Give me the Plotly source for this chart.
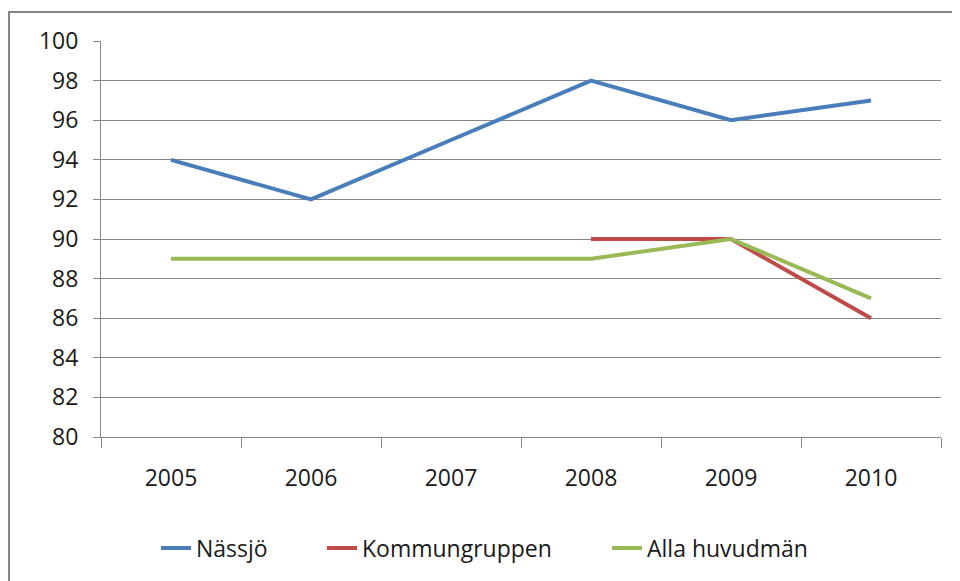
import plotly.graph_objects as go

years = ["2005", "2006", "2007", "2008", "2009", "2010"]
nassjo = [94, 92, 95, 98, 96, 97]
kommungruppen = [None, None, None, 90, 90, 86]
alla = [89, 89, 89, 89, 90, 87]

# page body has an 8px margin: work in viewport pixels, convert to figure
OFF = 8
W, H = 952, 573
L, R, T, B = 101 - OFF, 19, 41 - OFF, 144
pw, ph = W - L - R, H - T - B

def px_x(x):
    return (x - OFF - L) / pw

def px_y(y):
    return (H - B - (y - OFF)) / ph

font = dict(family="Open Sans, Noto Sans, Liberation Sans, sans-serif", size=23, color="#1a1a1a")

fig = go.Figure()
fig.add_trace(go.Scatter(x=years, y=nassjo, name="Nässjö", mode="lines", legend="legend",
                         line=dict(color="#4A7EBB", width=4)))
fig.add_trace(go.Scatter(x=years, y=kommungruppen, name="Kommungruppen", mode="lines",
                         legend="legend2", line=dict(color="#BE4B48", width=4)))
fig.add_trace(go.Scatter(x=years, y=alla, name="Alla huvudmän", mode="lines",
                         legend="legend3", line=dict(color="#98B954", width=4)))

def leg(xpix):
    return dict(orientation="h", x=px_x(xpix - 1), xanchor="left", y=px_y(548),
                yanchor="middle", font=font, bgcolor="rgba(0,0,0,0)")

fig.update_layout(
    width=W, height=H,
    margin=dict(l=L, r=R, t=T, b=B),
    paper_bgcolor="white", plot_bgcolor="white",
    font=font,
    showlegend=True,
    legend=leg(157), legend2=leg(323), legend3=leg(608),
    xaxis=dict(type="category", tickson="boundaries", ticks="outside", ticklen=10,
               tickcolor="#868686", showline=True, linecolor="#868686", linewidth=1,
               showgrid=False, tickfont=font, ticklabelstandoff=20,
               range=[-0.5, 5.5], fixedrange=True),
    yaxis=dict(range=[80, 100], dtick=2, tick0=80, ticks="outside", ticklen=7,
               tickcolor="#868686", showline=True, linecolor="#868686", linewidth=1,
               showgrid=True, gridcolor="#868686", gridwidth=1, zeroline=False,
               tickfont=font, ticklabelstandoff=10, fixedrange=True),
    shapes=[dict(type="rect", xref="paper", yref="paper",
                 x0=px_x(9), x1=px_x(990), y0=px_y(620), y1=px_y(12),
                 line=dict(color="#868686", width=2), fillcolor="rgba(0,0,0,0)",
                 layer="below")],
)

fig.write_html("out.html")
